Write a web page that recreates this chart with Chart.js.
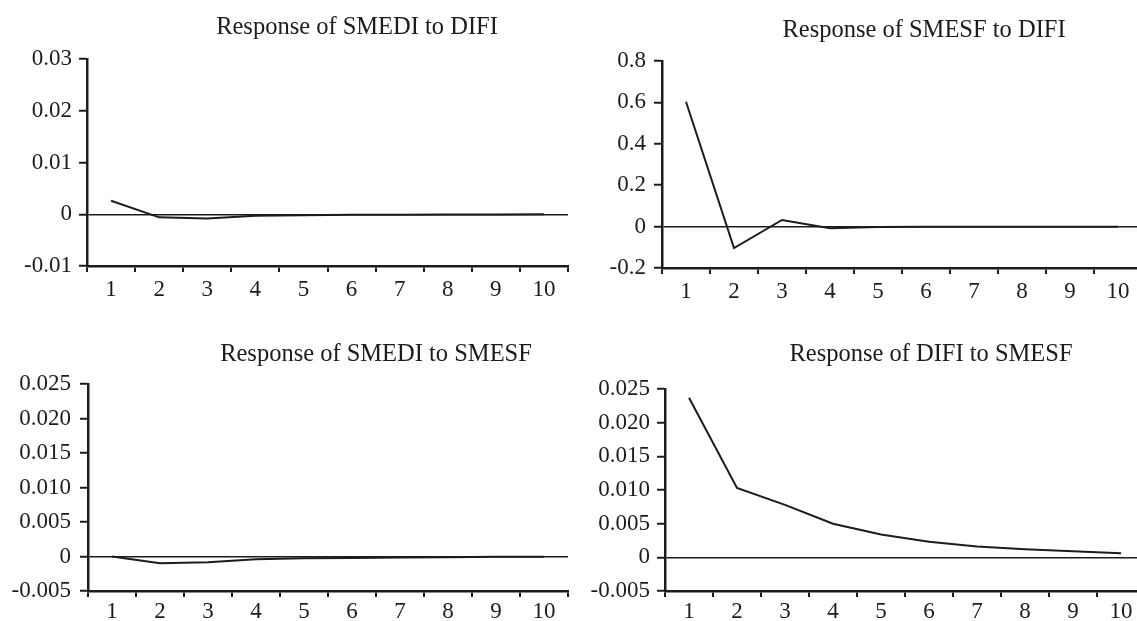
<!DOCTYPE html>
<html>
<head>
<meta charset="utf-8">
<script src="https://cdn.jsdelivr.net/npm/chart.js@4.4.0/dist/chart.umd.min.js"></script>
<style>
html, body { margin: 0; padding: 0; background: #fff; overflow: hidden; width: 1137px; height: 621px; }
canvas { position: absolute; }
</style>
</head>
<body>
<canvas id="c1" width="714" height="300" style="left:0px;top:0px"></canvas>
<canvas id="c2" width="708" height="300" style="left:570px;top:0px"></canvas>
<canvas id="c3" width="752" height="331" style="left:0px;top:290px"></canvas>
<canvas id="c4" width="722" height="331" style="left:570px;top:290px"></canvas>
<script>
// periods after the shock
var periods = ['1', '2', '3', '4', '5', '6', '7', '8', '9', '10'];

// impulse responses
var smediToDifi = [0.0026, -0.0006, -0.0008, -0.0003, -0.0002, -0.0001, -0.0001, -0.00005, -0.00003, -0.00002];
var smesfToDifi = [0.603, -0.104, 0.032, -0.008, -0.002, -0.001, -0.001, -0.001, -0.001, -0.001];
var smediToSmesf = [0, -0.00097, -0.00082, -0.0004, -0.00025, -0.0002, -0.00015, -0.0001, -0.00005, -0.00003];
var difiToSmesf = [0.0237, 0.0103, 0.0078, 0.0050, 0.0034, 0.0023, 0.0016, 0.0012, 0.0009, 0.0006];

// y tick labels, bottom to top
var ticksSmediDifi = ['-0.01', '0', '0.01', '0.02', '0.03'];
var ticksSmesfDifi = ['-0.2', '0', '0.2', '0.4', '0.6', '0.8'];
var ticksSmediSmesf = ['-0.005', '0', '0.005', '0.010', '0.015', '0.020', '0.025'];
var ticksDifiSmesf = ['-0.005', '0', '0.005', '0.010', '0.015', '0.020', '0.025'];

var ink = '#1c1c1c';
var serif = '"Liberation Serif", "Times New Roman", serif';

function makeIrfChart(elementId, title, data, tickLabels, g) {
    var ctx = document.getElementById(elementId).getContext('2d');
    var tickValues = tickLabels.map(function (t) { return parseFloat(t); });
    return new Chart(ctx, {
        type: 'line',
        data: {
            labels: periods,
            datasets: [{
                data: data,
                borderColor: ink,
                borderWidth: 2,
                pointRadius: 0,
                tension: 0,
                fill: false
            }]
        },
        options: {
            responsive: false,
            animation: false,
            devicePixelRatio: 1,
            layout: { padding: 0 },
            plugins: {
                legend: { display: false },
                tooltip: { enabled: false },
                title: {
                    display: true,
                    text: title,
                    color: ink,
                    font: { family: serif, size: 24.5, weight: 'normal' },
                    padding: { top: g.titleTop, bottom: g.titleBottom }
                }
            },
            scales: {
                x: {
                    type: 'category',
                    offset: true,
                    grid: { offset: true, drawOnChartArea: false, drawTicks: true, tickLength: 6, color: ink, lineWidth: 2 },
                    border: { display: true, color: ink, width: 2.5 },
                    ticks: { color: ink, font: { family: serif, size: 23 }, padding: g.xPad, maxRotation: 0, autoSkip: false },
                    afterFit: function (s) { s.height = g.xH; }
                },
                y: {
                    min: tickValues[0],
                    max: tickValues[tickValues.length - 1],
                    grid: {
                        drawOnChartArea: true,
                        drawTicks: true,
                        tickLength: 8,
                        tickColor: ink,
                        tickWidth: 2,
                        lineWidth: 1.5,
                        color: function (c) { return c.tick && c.tick.value === 0 ? ink : 'rgba(0,0,0,0)'; }
                    },
                    border: { display: true, color: ink, width: 2.5 },
                    ticks: {
                        color: ink,
                        font: { family: serif, size: 23 },
                        padding: g.yPad,
                        autoSkip: false,
                        callback: function (v, i) { return tickLabels[i]; }
                    },
                    afterBuildTicks: function (s) {
                        s.ticks = tickValues.map(function (v) { return { value: v }; });
                    },
                    afterFit: function (s) { s.width = g.yW; }
                },
                pad: {
                    type: 'linear',
                    position: 'right',
                    display: true,
                    grid: { display: false },
                    border: { display: false },
                    ticks: { display: false },
                    afterFit: function (s) { s.width = g.rW; }
                }
            }
        }
    });
}

makeIrfChart('c1', 'Response of SMEDI to DIFI', smediToDifi, ticksSmediDifi,
    { yW: 87, rW: 146, titleTop: 13.3, titleBottom: 16.3, xH: 34, xPad: 4, yPad: 7 });
makeIrfChart('c2', 'Response of SMESF to DIFI', smesfToDifi, ticksSmesfDifi,
    { yW: 92, rW: 136, titleTop: 16.3, titleBottom: 15.3, xH: 32, xPad: 4, yPad: 8 });
makeIrfChart('c3', 'Response of SMEDI to SMESF', smediToSmesf, ticksSmediSmesf,
    { yW: 88, rW: 184, titleTop: 50.3, titleBottom: 14.3, xH: 30, xPad: 1, yPad: 9 });
makeIrfChart('c4', 'Response of DIFI to SMESF', difiToSmesf, ticksDifiSmesf,
    { yW: 95, rW: 147, titleTop: 50.3, titleBottom: 19.3, xH: 30, xPad: 1, yPad: 7 });
</script>
</body>
</html>
